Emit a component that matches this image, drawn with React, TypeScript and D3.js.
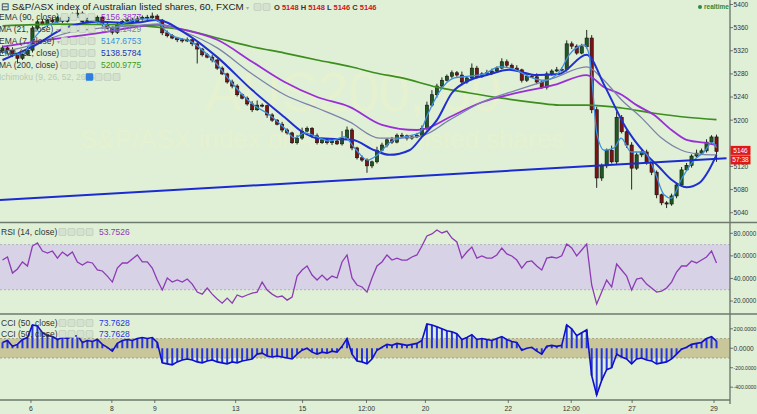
import React from 'react';
import * as d3 from 'd3';

const W = 757;
const H = 414;

// ---------- data ----------
const firstOpen = 5318;
const closes = [
  5325, 5321, 5313, 5307, 5314, 5321, 5359, 5370, 5366, 5373, 5370, 5377,
  5371, 5378, 5382, 5385, 5370, 5375, 5371, 5378, 5366, 5359, 5352, 5366,
  5371, 5373, 5370, 5375, 5378, 5377, 5380, 5373, 5351, 5346, 5342, 5339,
  5337, 5339, 5332, 5323, 5313, 5309, 5304, 5290, 5280, 5266, 5259, 5244,
  5238, 5228, 5218, 5226, 5225, 5209, 5200, 5193, 5183, 5178, 5161, 5169,
  5181, 5186, 5173, 5161, 5166, 5161, 5164, 5159, 5169, 5183, 5152, 5135,
  5131, 5121, 5128, 5148, 5157, 5166, 5162, 5174, 5173, 5169, 5171, 5174,
  5186, 5226, 5244, 5259, 5269, 5276, 5282, 5278, 5266, 5273, 5290, 5275,
  5280, 5282, 5285, 5290, 5301, 5295, 5290, 5287, 5269, 5276, 5275, 5266,
  5257, 5280, 5285, 5287, 5288, 5332, 5328, 5316, 5327, 5342, 5218, 5100,
  5121, 5148, 5128, 5205, 5180, 5157, 5117, 5140, 5145, 5126, 5110, 5071,
  5057, 5055, 5069, 5088, 5114, 5122, 5138, 5143, 5147, 5162, 5171, 5146,
];
const upperWick = [
  4, 3, 5, 2, 3, 6, 4, 3, 5, 2, 4, 3,
  5, 3, 4, 7, 3, 2, 4, 3, 2, 5, 3, 4,
  2, 3, 4, 5, 3, 4, 6, 3, 2, 4, 3, 2,
  3, 4, 2, 3, 2, 3, 4, 2, 3, 2, 4, 3,
  2, 3, 5, 8, 3, 2, 3, 2, 4, 3, 2, 5,
  6, 3, 2, 4, 3, 2, 3, 4, 12, 6, 3, 2,
  4, 3, 2, 6, 4, 3, 5, 3, 4, 2, 3, 4,
  5, 6, 8, 4, 5, 3, 4, 3, 6, 3, 8, 4,
  3, 5, 4, 3, 6, 4, 3, 5, 2, 4, 3, 6,
  3, 4, 3, 5, 3, 6, 4, 3, 5, 14, 5, 5,
  4, 3, 8, 10, 4, 3, 5, 4, 3, 4, 2, 3,
  2, 3, 4, 3, 5, 4, 3, 6, 4, 5, 3, 4,
];
const lowerWick = [
  3, 6, 4, 8, 3, 2, 4, 3, 2, 5, 3, 2,
  3, 2, 4, 3, 5, 2, 3, 4, 3, 2, 4, 3,
  2, 4, 3, 2, 3, 4, 2, 3, 4, 3, 2, 4,
  3, 2, 4, 25, 3, 2, 4, 3, 2, 3, 4, 3,
  2, 3, 4, 2, 3, 5, 3, 2, 4, 3, 2, 3,
  3, 2, 4, 3, 2, 3, 4, 2, 3, 2, 4, 3,
  3, 12, 4, 3, 2, 4, 3, 2, 3, 4, 3, 2,
  3, 4, 3, 5, 3, 2, 4, 3, 6, 3, 4, 3,
  2, 3, 4, 3, 2, 4, 3, 2, 4, 3, 2, 4,
  3, 4, 3, 2, 3, 4, 5, 3, 2, 3, 6, 17,
  5, 4, 3, 4, 3, 5, 37, 3, 4, 3, 5, 6,
  4, 7, 3, 4, 3, 2, 4, 3, 2, 3, 4, 18,
];
const rsi = [
  56.3, 59, 44.8, 48.4, 54.6, 51, 68.7, 71.4, 64.3, 62.5, 64.3, 58,
  63.4, 60, 63.4, 54.6, 51.9, 54.6, 53.7, 47.5, 46.6, 42.1, 36.8, 49.2,
  53.7, 53.7, 57.2, 60.8, 54.6, 54.6, 49.2, 38.6, 29.7, 40.4, 36.8, 38.6,
  36.8, 39.5, 35, 27.9, 26.1, 31.5, 26.1, 21.7, 18.1, 22.6, 18.1, 25.3,
  23.5, 25.3, 27, 27.9, 36.8, 29.7, 26.1, 23.5, 24.4, 20.8, 23.5, 42.1,
  47.5, 51, 43, 38.6, 43, 38.6, 42.1, 40.4, 54.6, 60.8, 40.4, 34.2,
  32.4, 27.9, 40.4, 51, 54.6, 60.8, 56.3, 58, 56.3, 56.3, 59, 60.8,
  68.7, 77.6, 79.4, 82.9, 80.3, 82, 75.8, 72.3, 58, 63.4, 67.8, 58,
  59.9, 58, 58, 60.8, 67, 61.7, 59.9, 56.3, 49.2, 54.6, 55.5, 51,
  47.5, 58, 59, 58, 60, 70.5, 67, 60, 65.2, 70.5, 34.2, 17.3,
  27.9, 38.6, 32.4, 52.8, 47.5, 42.1, 29.7, 39.5, 40.4, 35, 31.5, 27.9,
  28.8, 31.5, 36.8, 45.7, 51, 51, 55.5, 53.7, 56.3, 59, 64.3, 53.7526,
];
const cci = [
  60, 80, 20, 40, 90, 110, 240, 230, 160, 130, 120, 90,
  110, 100, 120, 130, 60, 80, 70, 90, 40, 10, -30, 50,
  80, 90, 80, 100, 110, 100, 110, 60, -150, -160, -170, -140,
  -120, -110, -120, -140, -150, -130, -120, -140, -150, -160, -140, -150,
  -130, -120, -110, -60, -50, -80, -90, -80, -90, -100, -110, -60,
  -20, 0, -40, -60, -40, -50, -30, -40, 20, 100, -60, -130,
  -140, -160, -110, -20, 10, 40, 30, 50, 40, 30, 40, 50,
  80, 250, 240, 220, 200, 180, 170, 150, 90, 110, 140, 90,
  100, 90, 80, 100, 120, 90, 70, 60, -20, 0, 10, -30,
  -60, 20, 30, 20, 30, 240, 200, 130, 160, 190, -280, -480,
  -330, -220, -200, -60, -90, -110, -160, -110, -100, -120, -130, -160,
  -150, -140, -110, -60, -10, 10, 40, 50, 60, 100, 120, 73.7628,
];

// moving averages as [bar index, price]
const ma200 = [[0, 5363], [11.5, 5366], [23.5, 5365], [31, 5361], [36.5, 5356], [43, 5342], [50, 5327], [56.5, 5316], [63, 5304], [70, 5292], [74.5, 5282], [80, 5273], [87, 5257], [93.5, 5247], [100, 5238], [107, 5230], [111.5, 5226], [117, 5226], [124, 5221], [130.5, 5212], [137, 5205], [143, 5201]];
const ema90 = [[0, 5327], [6, 5335], [19.5, 5351], [31, 5365], [36.5, 5356], [43, 5339], [50, 5301], [56.5, 5266], [63, 5240], [69.5, 5223], [76, 5192], [83, 5183], [85, 5186], [89.5, 5205], [96, 5231], [103, 5247], [110.5, 5261], [117, 5278], [120.5, 5257], [124, 5244], [127, 5226], [130.5, 5209], [134, 5183], [137, 5166], [140.5, 5161], [143, 5157]];
const ma21 = [[0, 5318], [6, 5330], [13, 5351], [19.5, 5359], [26, 5363], [31, 5366], [36.5, 5352], [43, 5325], [49.5, 5283], [56.5, 5244], [63, 5221], [69.5, 5197], [75.5, 5169], [79.5, 5169], [84, 5173], [89.5, 5200], [96, 5231], [103, 5252], [110.5, 5273], [117, 5292], [120, 5273], [124, 5235], [128, 5204], [132, 5169], [136, 5148], [140, 5141], [143, 5140]];
const ema21 = [[0, 5304], [6, 5327], [13, 5361], [19.5, 5370], [26, 5368], [31, 5373], [36.5, 5351], [43, 5309], [50, 5252], [56.5, 5205], [60, 5180], [63, 5169], [70, 5166], [74.5, 5148], [77.5, 5140], [81.5, 5148], [84, 5171], [87, 5200], [90, 5247], [93.5, 5269], [97, 5278], [101.5, 5287], [107, 5278], [111.5, 5280], [117, 5313], [120.5, 5261], [122.5, 5226], [124.5, 5192], [126.5, 5166], [129, 5140], [131.5, 5119], [134, 5097], [137, 5084], [139.5, 5091], [141.5, 5114], [143, 5140]];
const ema7 = [[0, 5318], [2.5, 5313], [4.5, 5318], [6.1, 5339], [8.5, 5361], [11.5, 5371], [15.1, 5378], [17.5, 5373], [20.5, 5365], [22.1, 5359], [24.5, 5368], [28.5, 5375], [30.9, 5373], [32.5, 5356], [34.5, 5344], [37.5, 5337], [39.5, 5325], [42.5, 5301], [45.5, 5269], [48.5, 5240], [50.5, 5225], [53.5, 5209], [56.5, 5186], [58.5, 5169], [60.5, 5178], [62.5, 5173], [65.5, 5164], [68.5, 5171], [70.5, 5152], [73.1, 5131], [75.1, 5140], [77.5, 5161], [80.5, 5171], [83.5, 5178], [85.1, 5209], [87.5, 5249], [90.5, 5273], [93.5, 5276], [96.5, 5280], [99.5, 5292], [102.5, 5288], [105.5, 5275], [108.5, 5269], [111.5, 5283], [113.5, 5313], [116.5, 5330], [117.5, 5313], [119.1, 5174], [120.5, 5148], [122.5, 5152], [123.9, 5169], [125.9, 5145], [128.5, 5145], [130.5, 5114], [132.5, 5071], [133.9, 5065], [136.1, 5100], [138.5, 5131], [140.5, 5145], [142.1, 5161], [143, 5152]];
const trendLine = [[-0.5, 5062], [145, 5134]];

const priceTicks = [5400, 5360, 5320, 5280, 5240, 5200, 5160, 5120, 5080, 5040];
const rsiTicks = [80, 60, 40, 20];
const cciTicks = [200, 0, -200, -400];
const timeLabels = ['6', '8', '9', '13', '15', '12:00', '20', '22', '12:00', '27', '29'];
const timeIdx = [5.7, 21.9, 30.5, 46.7, 60.1, 72.9, 84.7, 101.3, 113.9, 126.1, 142.5];

const legendLabels = ['EMA (90, close)', 'MA (21, close)', 'EMA (7, close)', 'EMA (21, close)', 'MA (200, close)'];
const legendValues = ['5156.3877', '5140.1429', '5147.6753', '5138.5784', '5200.9775'];
const legendColors = ['#9a2fd6', '#7b82ab', '#3a8de0', '#2230c0', '#3f9a1c'];

const ohlcLabels = ['O', 'H', 'L', 'C'];
const ohlcValues = ['5148', '5148', '5146', '5146'];
const countdown = '57:38';

// ---------- layout ----------
const AX = 730;
const FONT = 'Liberation Sans, Arial, sans-serif';
const BG = '#dff0d6';

const x = d3.scaleLinear().domain([-0.5, 145.7]).range([0, AX]);
const yP = d3.scaleLinear().domain([5040, 5400]).range([212.7, 4.5]);
const yR = d3.scaleLinear().domain([20, 80]).range([301, 233.3]);
const yC = d3.scaleLinear().domain([-400, 200]).range([387.2, 328.8]);

const maLine = d3.line<number[]>().x(d => x(d[0])).y(d => yP(d[1])).curve(d3.curveMonotoneX);
const rsiLine = d3.line<number>().x((d, i) => x(i)).y(d => yR(d));
const cciLine = d3.line<number>().x((d, i) => x(i)).y(d => yC(d));

function Boxes({ x0, y, n, first }: { x0: number; y: number; n: number; first?: string }) {
  return (
    <g>
      {d3.range(n).map(k => (
        <rect key={k} x={x0 + k * 9} y={y - 6.5} width={7} height={7} rx={1}
          fill={k === 0 && first ? first : '#d4e2cf'} stroke={k === 0 && first ? first : '#b7c4b3'} strokeWidth={0.6} />
      ))}
    </g>
  );
}

// width of a numeric label in em (Arial metrics)
function emWidth(s: string) {
  let w = 0;
  for (const ch of s) w += ch === '.' ? 0.278 : ch === '-' ? 0.333 : 0.556;
  return w;
}

function AxisLabel({ y, text }: { y: number; text: string }) {
  const fs = Math.min(6.6, 22.8 / emWidth(text));
  return (
    <g>
      <line x1={AX} x2={AX + 3} y1={y} y2={y} stroke="#555" strokeWidth={0.8} />
      <text x={AX + 3.6} y={y + fs * 0.36} fontSize={fs} fill="#333">{text}</text>
    </g>
  );
}

export default function App() {
  const candles = closes.map((c, i) => {
    const o = i === 0 ? firstOpen : closes[i - 1];
    const hi = Math.max(o, c) + upperWick[i];
    const lo = Math.min(o, c) - lowerWick[i];
    return { i, o, c, hi, lo };
  });
  const last = closes[closes.length - 1];
  const labelTop = yP(last) - 5.5;

  return (
    <div style={{ position: 'absolute', left: 0, top: 0 }}>
      <svg width={W} height={H} style={{ display: 'block', fontFamily: FONT }}>
        <defs>
          <clipPath id="mainClip"><rect x={0} y={0} width={AX} height={222} /></clipPath>
          <clipPath id="rsiClip"><rect x={0} y={223} width={AX} height={90} /></clipPath>
          <clipPath id="cciClip"><rect x={0} y={315} width={AX} height={85} /></clipPath>
        </defs>
        <rect x={0} y={0} width={W} height={H} fill={BG} />

        {/* watermark */}
        <text x={205} y={111} fontSize={55} fill="#e6f1cf" fontFamily={FONT}>AUS200, 60</text>
        <text x={80} y={148} fontSize={26} fill="#e6f1cf" fontFamily={FONT}>S&amp;P/ASX index of Australian listed shares</text>

        {/* main panel */}
        <g clipPath="url(#mainClip)">
          {candles.map(d => {
            const up = d.c >= d.o;
            const top = yP(Math.max(d.o, d.c));
            const h = Math.max(1, Math.abs(yP(d.o) - yP(d.c)));
            return (
              <g key={d.i}>
                <line x1={x(d.i)} x2={x(d.i)} y1={yP(d.hi)} y2={yP(d.lo)} stroke="#111" strokeWidth={0.9} />
                <rect x={x(d.i) - 1.6} y={top} width={3.2} height={h}
                  fill={up ? '#1f5a22' : '#7c1212'} stroke="#111" strokeWidth={0.6} />
              </g>
            );
          })}
          <path d={maLine(ma200) || ''} fill="none" stroke="#3c8f1c" strokeWidth={1.7} />
          <path d={maLine(ema90) || ''} fill="none" stroke="#9a2fd6" strokeWidth={1.8} />
          <path d={maLine(ma21) || ''} fill="none" stroke="#7b82ab" strokeWidth={1.3} />
          <path d={maLine(ema21) || ''} fill="none" stroke="#1f2fd0" strokeWidth={2} />
          <path d={maLine(ema7) || ''} fill="none" stroke="#3d8fe3" strokeWidth={1.3} />
          <path d={maLine(trendLine) || ''} fill="none" stroke="#1b2bd0" strokeWidth={2} />
        </g>

        {/* RSI panel */}
        <rect x={0} y={yR(70)} width={AX} height={yR(30) - yR(70)} fill="#d7d2e6" />
        <line x1={0} x2={AX} y1={yR(70)} y2={yR(70)} stroke="#aaa3bd" strokeDasharray="2,2" strokeWidth={0.8} />
        <line x1={0} x2={AX} y1={yR(30)} y2={yR(30)} stroke="#aaa3bd" strokeDasharray="2,2" strokeWidth={0.8} />
        <g clipPath="url(#rsiClip)">
          <path d={rsiLine(rsi) || ''} fill="none" stroke="#8d3bb4" strokeWidth={1.3} />
        </g>

        {/* CCI panel */}
        <rect x={0} y={yC(100)} width={AX} height={yC(-100) - yC(100)} fill="#c9c69a" />
        <line x1={0} x2={AX} y1={yC(100)} y2={yC(100)} stroke="#9c9a7a" strokeDasharray="2,2" strokeWidth={0.8} />
        <line x1={0} x2={AX} y1={yC(-100)} y2={yC(-100)} stroke="#9c9a7a" strokeDasharray="2,2" strokeWidth={0.8} />
        <g clipPath="url(#cciClip)">
          {cci.map((v, i) => (
            <line key={i} x1={x(i)} x2={x(i)} y1={yC(0)} y2={yC(v)} stroke="#2436e0" strokeWidth={2} />
          ))}
          <path d={cciLine(cci) || ''} fill="none" stroke="#1010c8" strokeWidth={1.6} />
        </g>

        {/* panel borders */}
        <line x1={0} x2={W} y1={222.5} y2={222.5} stroke="#6d7a6d" strokeWidth={1.4} />
        <line x1={0} x2={W} y1={314} y2={314} stroke="#6d7a6d" strokeWidth={1.4} />
        <line x1={0} x2={AX} y1={400} y2={400} stroke="#6d7a6d" strokeWidth={1.4} />
        <line x1={AX} x2={AX} y1={0} y2={404} stroke="#6d7a6d" strokeWidth={1.4} />

        {/* right axes */}
        {priceTicks.filter(t => Math.abs(yP(t) - yP(last)) > 12).map(t => (
          <AxisLabel key={'p' + t} y={yP(t)} text={String(t)} />
        ))}
        {rsiTicks.map(t => <AxisLabel key={'r' + t} y={yR(t)} text={t.toFixed(4)} />)}
        {cciTicks.map(t => <AxisLabel key={'c' + t} y={yC(t)} text={t.toFixed(4)} />)}

        {/* last price labels */}
        <rect x={AX + 0.5} y={labelTop} width={20} height={9} fill="#e01818" />
        <text x={AX + 10.5} y={labelTop + 7} fontSize={6.5} fill="#fff" textAnchor="middle">{last}</text>
        <rect x={AX + 0.5} y={labelTop + 9.5} width={20} height={9} fill="#e01818" />
        <text x={AX + 10.5} y={labelTop + 16.5} fontSize={6.5} fill="#fff" textAnchor="middle">{countdown}</text>

        {/* time axis */}
        {timeIdx.map((t, k) => (
          <g key={'t' + k}>
            <line x1={x(t)} x2={x(t)} y1={400} y2={403} stroke="#555" strokeWidth={0.8} />
            <text x={x(t)} y={411} fontSize={6.8} fill="#333" textAnchor="middle">{timeLabels[k]}</text>
          </g>
        ))}

        {/* title */}
        <text x={1} y={10} fontSize={9.8} fill="#222">⊟ S&amp;P/ASX index of Australian listed shares, 60, FXCM <tspan fill="#aaa" fontSize={6}>▾</tspan></text>
        <Boxes x0={254} y={10} n={2} />
        <text x={274} y={9.5} fontSize={7.5} fontWeight="bold">
          {ohlcLabels.map((l, k) => (
            <tspan key={l}>
              <tspan fill="#333">{(k ? ' ' : '') + l + ' '}</tspan>
              <tspan fill="#d01515">{ohlcValues[k]}</tspan>
            </tspan>
          ))}
        </text>
        <circle cx={700} cy={7} r={2} fill="#2e8a3a" />
        <text x={704} y={9.3} fontSize={6.5} fill="#2e8a3a" fontWeight="bold">realtime</text>

        {/* legend */}
        {legendLabels.map((l, k) => {
          const y = 20 + k * 12;
          return (
            <g key={'lg' + k}>
              <text x={-1} y={y} fontSize={8.5} fill="#333">{l} <tspan fill="#aaa" fontSize={6}>▾</tspan></text>
              <Boxes x0={61} y={y} n={4} />
              <text x={101} y={y} fontSize={8.5} fill={legendColors[k]}>{legendValues[k]}</text>
            </g>
          );
        })}
        <text x={-1} y={80} fontSize={8.5} fill="#b8cbb4">Ichimoku (9, 26, 52, 26) <tspan fontSize={6}>▾</tspan></text>
        <Boxes x0={86} y={80} n={4} first="#2f7fe0" />

        {/* RSI legend */}
        <text x={1} y={235} fontSize={8.5} fill="#333">RSI (14, close) <tspan fill="#aaa" fontSize={6}>▾</tspan></text>
        <Boxes x0={59} y={235} n={4} />
        <text x={99} y={235} fontSize={8.5} fill="#8d3bb4">{rsi[rsi.length - 1].toFixed(4)}</text>

        {/* CCI legend */}
        {[326, 337].map(yy => (
          <g key={'cl' + yy}>
            <text x={1} y={yy} fontSize={8.5} fill="#333">CCI (50, close) <tspan fill="#aaa" fontSize={6}>▾</tspan></text>
            <Boxes x0={59} y={yy} n={4} />
            <text x={99} y={yy} fontSize={8.5} fill="#2436e0">{cci[cci.length - 1].toFixed(4)}</text>
          </g>
        ))}
      </svg>
    </div>
  );
}
